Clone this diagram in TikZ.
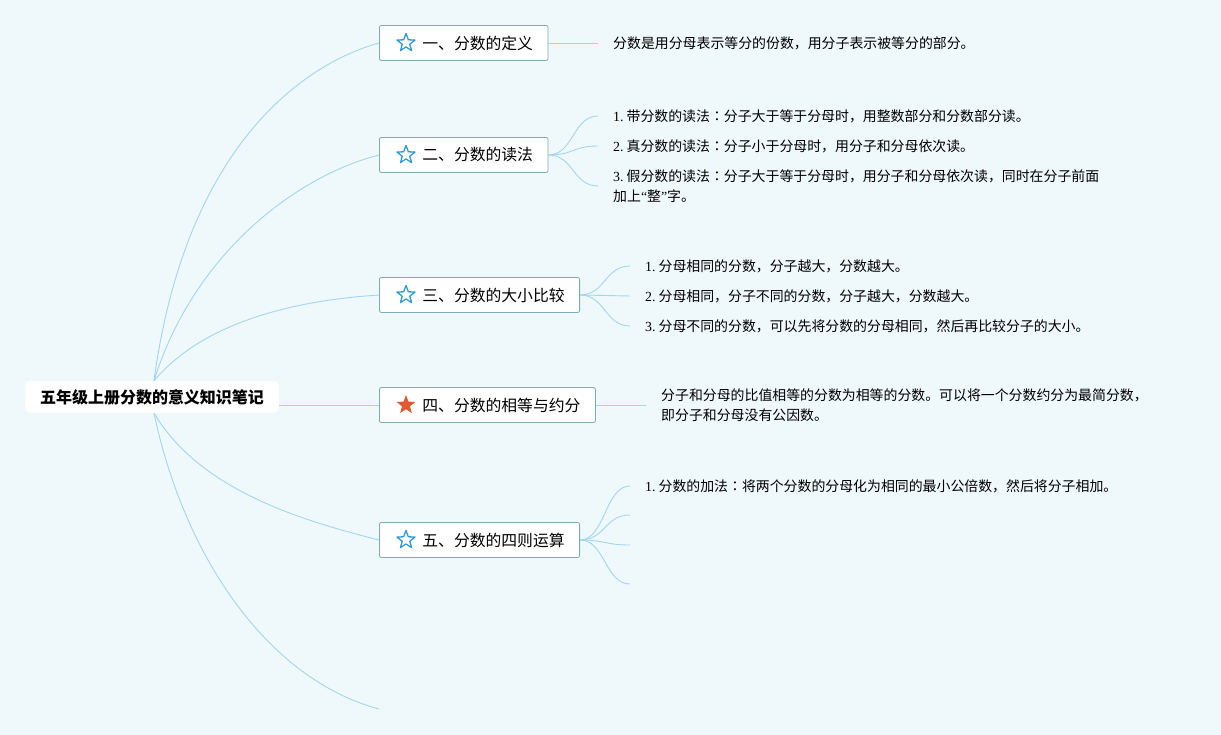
\documentclass[tikz,border=0pt]{standalone}
\usepackage{fontspec}
\setmainfont{Liberation Serif}
\newfontfamily\cjk{Noto Sans CJK SC}
\newfontfamily\cjktc{Noto Sans CJK TC}
\usepackage{tikz}
\usetikzlibrary{positioning, shapes.geometric}
\usepackage{xcolor}
\definecolor{mmbg}{HTML}{EFF8FB}
\definecolor{mmline}{HTML}{A3D6EE}
\definecolor{mmborder}{HTML}{7FADA9}
\definecolor{starblue}{HTML}{2E9AD3}
\definecolor{starred}{HTML}{E2592F}
\newcommand{\mmcolon}{{\cjktc ：}}
\newcommand{\mmnum}[1]{{\rmfamily #1.}\hspace{3pt}}

\begin{document}
\begin{tikzpicture}[x=1pt, y=-1pt,
  root/.style={rounded corners=6pt, fill=white, inner xsep=15pt, minimum height=32pt,
               font=\cjk\fontsize{16}{18}\selectfont\bfseries},
  topic/.style={rounded corners=2pt, draw=mmborder, fill=white, line width=0.8pt,
                anchor=west, inner xsep=15pt, minimum height=35pt,
                font=\cjk\fontsize{15.8}{18}\selectfont},
  staro/.style={star, star points=5, star point ratio=2.4, minimum size=19pt, inner sep=0pt,
                draw=starblue, line width=1.3pt, line join=round},
  starf/.style={star, star points=5, star point ratio=2.4, minimum size=20pt, inner sep=0pt,
                fill=starred, line join=round},
  detail/.style={anchor=west, inner xsep=0pt, align=left,
                 font=\cjk\fontsize{13.9}{20}\selectfont},
  branch/.style={draw=mmline, line width=0.9pt},
]
  \fill[mmbg] (0,0) rectangle (1221,735);
  \useasboundingbox (0,0) rectangle (1221,735);

  \node[root] (root) at (152,397) {五年级上册分数的意义知识笔记};

  \node[topic] (t1) at (379,43)  {\hspace{28pt}一、分数的定义};
  \node[topic] (t2) at (379,155) {\hspace{28pt}二、分数的读法};
  \node[topic] (t3) at (379,295) {\hspace{28pt}三、分数的大小比较};
  \node[topic] (t4) at (379,405) {\hspace{28pt}四、分数的相等与约分};
  \node[topic] (t5) at (379,540) {\hspace{28pt}五、分数的四则运算};
  \coordinate (e6) at (379,709);

  \node[staro] (s1) at ([xshift=27pt]t1.west) {};
  \node[staro] (s2) at ([xshift=27pt]t2.west) {};
  \node[staro] (s3) at ([xshift=27pt]t3.west) {};
  \node[starf] (s4) at ([xshift=27pt]t4.west) {};
  \node[staro] (s5) at ([xshift=27pt]t5.west) {};

  \node[detail] (d1)  at (613,43)  {分数是用分母表示等分的份数，用分子表示被等分的部分。};
  \node[detail] (d21) at (613,116) {\mmnum{1}带分数的读法\mmcolon 分子大于等于分母时，用整数部分和分数部分读。};
  \node[detail] (d22) at (613,146) {\mmnum{2}真分数的读法\mmcolon 分子小于分母时，用分子和分母依次读。};
  \node[detail] (d23) at (613,186) {\mmnum{3}假分数的读法\mmcolon 分子大于等于分母时，用分子和分母依次读，同时在分子前面\\加上{\rmfamily “}整{\rmfamily ”}字。};
  \node[detail] (d31) at (645,266) {\mmnum{1}分母相同的分数，分子越大，分数越大。};
  \node[detail] (d32) at (645,296) {\mmnum{2}分母相同，分子不同的分数，分子越大，分数越大。};
  \node[detail] (d33) at (645,326) {\mmnum{3}分母不同的分数，可以先将分数的分母相同，然后再比较分子的大小。};
  \node[detail] (d4)  at (661,405) {分子和分母的比值相等的分数为相等的分数。可以将一个分数约分为最简分数，\\即分子和分母没有公因数。};
  \node[detail] (d51) at (645,486) {\mmnum{1}分数的加法\mmcolon 将两个分数的分母化为相同的最小公倍数，然后将分子相加。};
  \coordinate (e52) at (630,515);
  \coordinate (e53) at (630,545);
  \coordinate (e54) at (630,584);

  % main branches
  \draw[branch] ([xshift=2pt]root.north) .. controls (185,150) and (300,65) .. (t1.west);
  \draw[branch] ([xshift=2pt]root.north) .. controls (195,250) and (300,175) .. (t2.west);
  \draw[branch] ([xshift=2pt]root.north) .. controls (205,320) and (300,300) .. (t3.west);
  \draw[branch] (t4.west -| root.east) -- (t4.west);
  \draw[branch] ([xshift=2pt]root.south) .. controls (200,490) and (300,520) .. (t5.west);
  \draw[branch] ([xshift=2pt]root.south) .. controls (185,560) and (270,680) .. (e6);

  % sub branches
  \draw[branch] (t1.east) -- ([xshift=-15pt]d1.west);
  \draw[branch] (t2.east) .. controls +(25,0) and +(-25,0) .. ([xshift=-15pt]d21.west);
  \draw[branch] (t2.east) .. controls +(25,0) and +(-25,0) .. ([xshift=-15pt]d22.west);
  \draw[branch] (t2.east) .. controls +(25,0) and +(-25,0) .. ([xshift=-15pt]d23.west);
  \draw[branch] (t3.east) .. controls +(25,0) and +(-25,0) .. ([xshift=-15pt]d31.west);
  \draw[branch] (t3.east) .. controls +(25,0) and +(-25,0) .. ([xshift=-15pt]d32.west);
  \draw[branch] (t3.east) .. controls +(25,0) and +(-25,0) .. ([xshift=-15pt]d33.west);
  \draw[branch] (t4.east) -- ([xshift=-15pt]d4.west);
  \draw[branch] (t5.east) .. controls +(25,0) and +(-25,0) .. ([xshift=-15pt]d51.west);
  \draw[branch] (t5.east) .. controls +(25,0) and +(-25,0) .. (e52);
  \draw[branch] (t5.east) .. controls +(25,0) and +(-25,0) .. (e53);
  \draw[branch] (t5.east) .. controls +(25,0) and +(-25,0) .. (e54);
\end{tikzpicture}
\end{document}
